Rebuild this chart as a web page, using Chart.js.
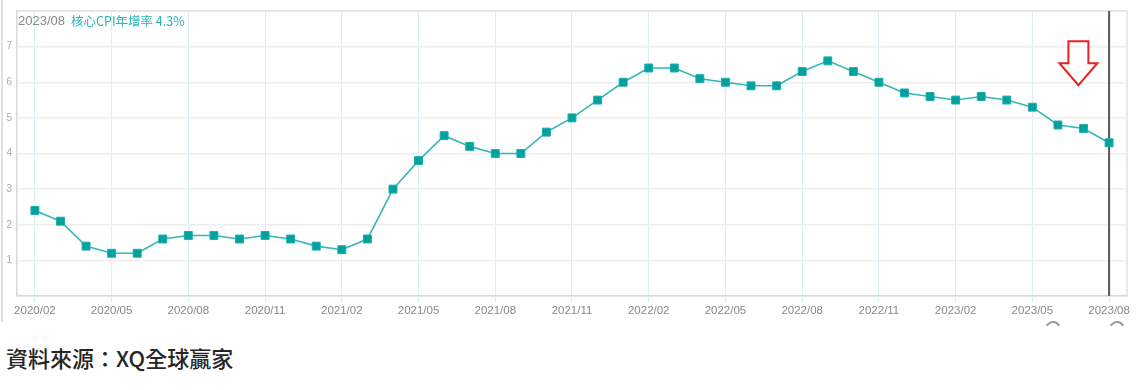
<!DOCTYPE html>
<html>
<head>
<meta charset="utf-8">
<script src="https://cdn.jsdelivr.net/npm/chart.js@4.4.0/dist/chart.umd.min.js"></script>
<style>
  html, body { margin: 0; padding: 0; background: #fff; }
  #wrap { position: relative; width: 1136px; height: 390px; }
  #box { position: absolute; left: 0; top: 0; width: 1136px; height: 328px; }
  #source { position: absolute; left: 6px; top: 342px; font: 500 22px "Noto Sans CJK TC", sans-serif; color: #262626; line-height: 30px; }
</style>
</head>
<body>
<div id="wrap">
  <div id="box"><canvas id="cpiChart"></canvas></div>
  <div id="source">資料來源：XQ全球贏家</div>
</div>
<script>
// 月份 (2020/02 ~ 2023/08)
const months = [
  '2020/02','2020/03','2020/04','2020/05','2020/06','2020/07','2020/08','2020/09','2020/10','2020/11','2020/12',
  '2021/01','2021/02','2021/03','2021/04','2021/05','2021/06','2021/07','2021/08','2021/09','2021/10','2021/11','2021/12',
  '2022/01','2022/02','2022/03','2022/04','2022/05','2022/06','2022/07','2022/08','2022/09','2022/10','2022/11','2022/12',
  '2023/01','2023/02','2023/03','2023/04','2023/05','2023/06','2023/07','2023/08'
];
// 核心CPI年增率 (%)
const coreCpi = [
  2.4, 2.1, 1.4, 1.2, 1.2, 1.6, 1.7, 1.7, 1.6, 1.7, 1.6,
  1.4, 1.3, 1.6, 3.0, 3.8, 4.5, 4.2, 4.0, 4.0, 4.6, 5.0, 5.5,
  6.0, 6.4, 6.4, 6.1, 6.0, 5.9, 5.9, 6.3, 6.6, 6.3, 6.0, 5.7,
  5.6, 5.5, 5.6, 5.5, 5.3, 4.8, 4.7, 4.3
];
const tickLabels = [
  '2020/02','2020/05','2020/08','2020/11','2021/02','2021/05','2021/08','2021/11',
  '2022/02','2022/05','2022/08','2022/11','2023/02','2023/05','2023/08'
];
const yTicks = [1, 2, 3, 4, 5, 6, 7];
const seriesName = '核心CPI年增率';

const lastIdx = coreCpi.length - 1;

// 額外繪製：外框、十字線、標題、箭頭
const decorPlugin = {
  id: 'decor',
  beforeDatasetsDraw(chart) {
    const { ctx, chartArea: a, scales } = chart;
    ctx.save();
    ctx.strokeStyle = '#e2e2e2';
    ctx.lineWidth = 1.5;
    ctx.beginPath();
    ctx.moveTo(a.left, a.top);
    ctx.lineTo(a.right, a.top);
    ctx.lineTo(a.right, a.bottom);
    ctx.stroke();

    // 左側外框
    ctx.strokeStyle = '#e0e0e0';
    ctx.lineWidth = 2;
    ctx.beginPath();
    ctx.moveTo(2, 0);
    ctx.lineTo(2, 322);
    ctx.stroke();

    // 最新月份的垂直線
    const xl = scales.x.getPixelForValue(lastIdx);
    ctx.strokeStyle = '#555';
    ctx.lineWidth = 2;
    ctx.beginPath();
    ctx.moveTo(xl, a.top);
    ctx.lineTo(xl, a.bottom);
    ctx.stroke();
    ctx.restore();
  },
  afterDatasetsDraw(chart) {
    const { ctx, chartArea: a, scales } = chart;
    ctx.save();
    ctx.textBaseline = 'middle';
    ctx.font = '13px "Liberation Sans", Arial, sans-serif';
    ctx.fillStyle = '#888';
    const d = months[lastIdx];
    ctx.fillText(d, a.left + 1, a.top + 10);
    const w = ctx.measureText(d).width;
    ctx.font = '12.5px "Noto Sans CJK TC", "Liberation Sans", sans-serif';
    ctx.fillStyle = '#2fb4b4';
    ctx.fillText(seriesName + ' ' + coreCpi[lastIdx] + '%', a.left + w + 7, a.top + 10);

    // 紅色空心向下箭頭
    const cx = scales.x.getPixelForValue(40.8);
    const top = scales.y.getPixelForValue(7.15);
    const tip = scales.y.getPixelForValue(5.92);
    const neck = top + (tip - top) * 0.5;
    ctx.strokeStyle = '#e8221c';
    ctx.lineWidth = 2;
    ctx.lineJoin = 'miter';
    ctx.beginPath();
    ctx.moveTo(cx - 10, top);
    ctx.lineTo(cx + 10, top);
    ctx.lineTo(cx + 10, neck);
    ctx.lineTo(cx + 19, neck);
    ctx.lineTo(cx, tip);
    ctx.lineTo(cx - 19, neck);
    ctx.lineTo(cx - 10, neck);
    ctx.closePath();
    ctx.stroke();

    // 下方捲動把手
    ctx.strokeStyle = '#999';
    ctx.lineWidth = 2;
    [1053, 1117].forEach(x => {
      ctx.beginPath();
      ctx.arc(x, 329, 7, Math.PI * 1.15, Math.PI * 1.85);
      ctx.stroke();
    });
    ctx.restore();
  }
};

const ctx = document.getElementById('cpiChart').getContext('2d');
const cpiChart = new Chart(ctx, {
  type: 'line',
  data: {
    datasets: [{
      label: seriesName,
      data: coreCpi.map((v, i) => ({ x: i, y: v })),
      borderColor: '#34b7b7',
      borderWidth: 1.6,
      backgroundColor: '#00a19f',
      pointStyle: 'rect',
      pointRadius: 5.6,
      pointBorderWidth: 1,
      pointBorderColor: '#1aaeae',
      pointBackgroundColor: '#00a19f',
      tension: 0,
      fill: false
    }]
  },
  options: {
    responsive: true,
    maintainAspectRatio: false,
    animation: false,
    layout: { padding: { top: 4, right: 9, left: 0, bottom: 0 } },
    plugins: {
      legend: { display: false },
      tooltip: { enabled: false }
    },
    scales: {
      x: {
        type: 'linear',
        min: -0.7,
        max: 42.7,
        afterBuildTicks: scale => {
          scale.ticks = tickLabels.map(t => ({ value: months.indexOf(t) }));
        },
        afterFit: scale => { scale.height = 32; },
        ticks: {
          callback: v => months[v],
          autoSkip: false,
          maxRotation: 0,
          padding: 2,
          color: '#888',
          font: { family: '"Liberation Sans", Arial, sans-serif', size: 11.5 }
        },
        grid: { color: '#dceff5', tickLength: 6, lineWidth: 1 },
        border: { color: '#d9d9d9', width: 1.5 }
      },
      y: {
        min: 0,
        max: 8,
        afterBuildTicks: scale => {
          scale.ticks = [0].concat(yTicks, [8]).map(v => ({ value: v }));
        },
        afterFit: scale => { scale.width = 17; },
        ticks: {
          callback: v => yTicks.includes(v) ? v : '',
          padding: 5,
          color: '#aaa',
          font: { family: '"Liberation Sans", Arial, sans-serif', size: 10 }
        },
        grid: { color: '#eeeeee', drawTicks: false, lineWidth: 1.5 },
        border: { color: '#d9d9d9', width: 1.5 }
      }
    }
  },
  plugins: [decorPlugin]
});
</script>
</body>
</html>
